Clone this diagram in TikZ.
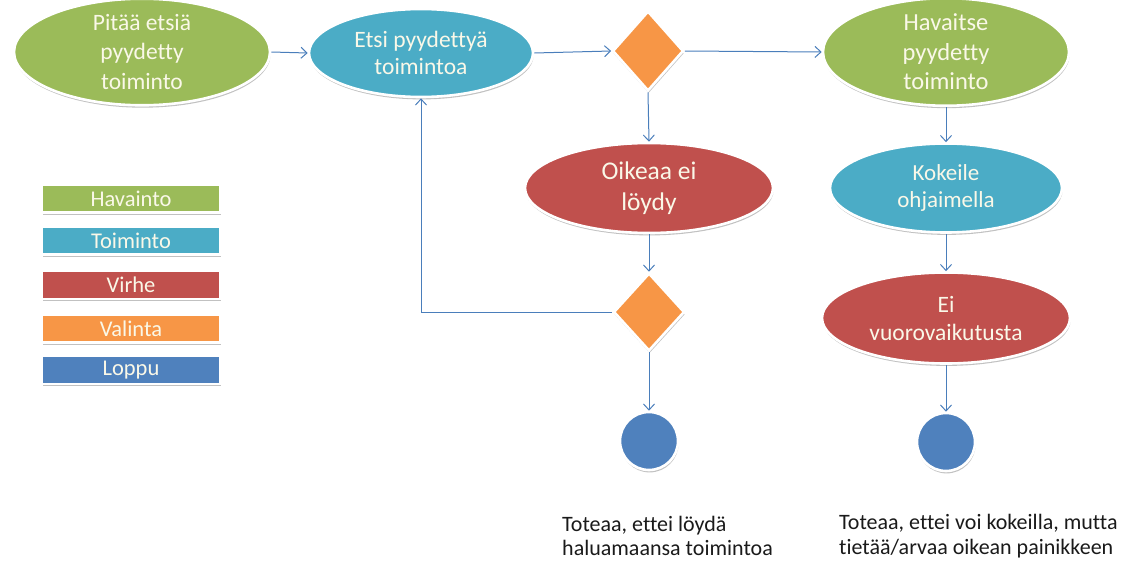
\documentclass[tikz,border=0pt]{standalone}
\usepackage{fontspec}
\setmainfont{Carlito}[Ligatures=NoCommon]
\usetikzlibrary{shapes.geometric,arrows.meta,shadows}

\definecolor{cgreen}{HTML}{9BBB59}
\definecolor{ccyan}{HTML}{4BACC6}
\definecolor{cred}{HTML}{C0504D}
\definecolor{corange}{HTML}{F79646}
\definecolor{cblue}{HTML}{4F81BD}
\definecolor{cline}{HTML}{4A7EBB}
\definecolor{ctext}{RGB}{250,248,232}
\definecolor{cdark}{HTML}{1A1A1A}

\tikzset{
  base/.style={draw=white, line width=2.6pt, inner sep=0pt, text=ctext, align=center,
    drop shadow={shadow xshift=0.6pt, shadow yshift=-2.4pt, opacity=0.3, fill=black!80}},
  ell/.style={base, ellipse},
  choice/.style={base, diamond, fill=corange},
  finish/.style={base, circle, fill=cblue, minimum size=58pt},
  legendbox/.style={base, rectangle, minimum width=178pt, minimum height=28pt,
    font=\fontsize{22.5}{26}\selectfont},
  note/.style={text=cdark, align=left, anchor=west, inner sep=0pt,
    font=\fontsize{22}{24.5}\selectfont},
  conn/.style={draw=cline, line width=1pt,
    -{Straight Barb[length=6pt,width=11pt]}}
}

\begin{document}
\begin{tikzpicture}[x=1pt,y=-1pt]
\useasboundingbox (0,0) rectangle (1130,562);

% main flow
\node[ell, fill=cgreen, minimum width=256pt, minimum height=89pt,
      font=\fontsize{23.5}{29.5}\selectfont] (e1) at (142,52) {Pitää etsiä\\pyydetty\\toiminto};
\node[ell, fill=ccyan, minimum width=224pt, minimum height=88pt,
      font=\fontsize{23.5}{26.5}\selectfont] (e2) at (421,53) {Etsi pyydettyä\\toimintoa};
\node[choice, minimum width=71pt, minimum height=80pt] (d1) at (648,51) {};
\node[ell, fill=cgreen, minimum width=246pt, minimum height=91pt,
      font=\fontsize{24.5}{29.5}\selectfont] (e3) at (946,52) {Havaitse\\pyydetty\\toiminto};

% left branch
\node[ell, fill=cred, minimum width=248pt, minimum height=90pt,
      font=\fontsize{25.5}{31}\selectfont] (e4) at (649,188) {Oikeaa ei\\löydy};
\node[choice, minimum width=71pt, minimum height=78pt] (d2) at (649,312) {};
\node[finish] (c1) at (649,441) {};

% right branch
\node[ell, fill=ccyan, minimum width=232pt, minimum height=89pt,
      font=\fontsize{23}{27}\selectfont] (e5) at (946,188) {Kokeile\\ohjaimella};
\node[ell, fill=cred, minimum width=248pt, minimum height=91pt,
      font=\fontsize{23.5}{28}\selectfont] (e6) at (946,318) {Ei\\vuorovaikutusta};
\node[finish] (c2) at (946,442) {};

% end notes
\node[note] (t1) at (562,536) {Toteaa, ettei löydä\\haluamaansa toimintoa};
\node[note] (t2) at (839,536) {Toteaa, ettei voi kokeilla, mutta\\tietää/arvaa oikean painikkeen};

% legend
\node[legendbox, fill=cgreen]  (l1) at (131,198.5) {Havainto};
\node[legendbox, fill=ccyan]   (l2) at (131,240.5) {Toiminto};
\node[legendbox, fill=cred]    (l3) at (131,285)   {Virhe};
\node[legendbox, fill=corange] (l4) at (131,328.5) {Valinta};
\node[legendbox, fill=cblue]   (l5) at (131,370)   {Loppu};

% connectors
\draw[conn] (e1.east) -- (e2.west);
\draw[conn] (e2.east) -- (d1.west);
\draw[conn] (d1.east) -- (e3.west);
\draw[conn] (d1.south) -- (e4.north);
\draw[conn] (e4.south) -- (d2.north);
\draw[conn] (d2.south) -- (c1.north);
\draw[conn] (d2.west) -| (e2.south);
\draw[conn] (e3.south) -- (e5.north);
\draw[conn] (e5.south) -- (e6.north);
\draw[conn] (e6.south) -- (c2.north);
\end{tikzpicture}
\end{document}
